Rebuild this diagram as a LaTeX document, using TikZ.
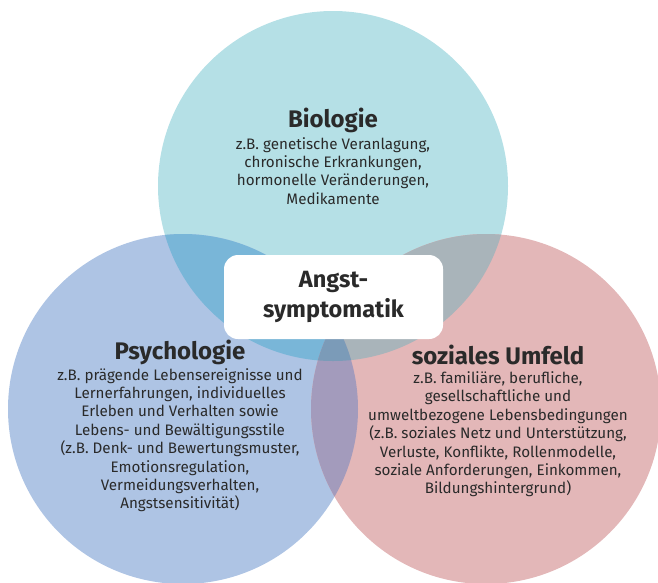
\documentclass[tikz,border=0pt]{standalone}
\usepackage{fontspec}
\setmainfont{Fira Sans}
\definecolor{biocol}{HTML}{B5E0E6}
\definecolor{psycol}{HTML}{AEC4E4}
\definecolor{sozcol}{HTML}{E3B7B8}
\definecolor{biopsy}{HTML}{79B6D8}
\definecolor{biosoz}{HTML}{A9B4BA}
\definecolor{psysoz}{HTML}{A39BBC}
\definecolor{allcol}{HTML}{7B9BB8}
\definecolor{txtcol}{HTML}{2A2A2A}
\tikzset{
  title/.style={font=\fontsize{24}{26}\selectfont\bfseries, text=txtcol, inner sep=0pt},
  body/.style={font=\fontsize{15.2}{18.4}\selectfont, text=txtcol, align=center, inner sep=0pt},
}
\begin{document}
\begin{tikzpicture}[x=1pt,y=-1pt]
\useasboundingbox (0,0) rectangle (658,582);
\clip (0,0) rectangle (658,582);
\def\r{175}
\coordinate (bio) at (333,186);
\coordinate (psy) at (183,409);
\coordinate (soz) at (486,409);
% circles
\fill[biocol] (bio) circle[radius=\r];
\fill[psycol] (psy) circle[radius=\r];
\fill[sozcol] (soz) circle[radius=\r];
% overlaps
\begin{scope}
\clip (bio) circle[radius=\r];
\fill[biopsy] (psy) circle[radius=\r];
\fill[biosoz] (soz) circle[radius=\r];
\end{scope}
\begin{scope}
\clip (psy) circle[radius=\r];
\fill[psysoz] (soz) circle[radius=\r];
\clip (soz) circle[radius=\r];
\fill[allcol] (bio) circle[radius=\r];
\end{scope}
% centre box
\node[fill=white, rounded corners=14pt, minimum width=219pt, minimum height=84pt,
  align=center, font=\fontsize{23.5}{30}\selectfont\bfseries, text=txtcol] (angst) at (333.5,297) {Angst-\\symptomatik};
% labels
\node[title] (biot) at (333,120) {Biologie};
\node[body, anchor=north] (biob) at (333,137) {z.B. genetische Veranlagung,\\chronische Erkrankungen,\\hormonelle Veränderungen,\\Medikamente};
\node[title] (psyt) at (180,352) {Psychologie};
\node[body, anchor=north] (psyb) at (180,368) {z.B. prägende Lebensereignisse und\\Lernerfahrungen, individuelles\\Erleben und Verhalten sowie\\Lebens- und Bewältigungsstile\\(z.B. Denk- und Bewertungsmuster,\\Emotionsregulation,\\Vermeidungsverhalten,\\Angstsensitivität)};
\node[title] (sozt) at (498,355) {soziales Umfeld};
\node[body, anchor=north] (sozb) at (498,371.5) {z.B. familiäre, berufliche,\\gesellschaftliche und\\umweltbezogene Lebensbedingungen\\(z.B. soziales Netz und Unterstützung,\\Verluste, Konflikte, Rollenmodelle,\\soziale Anforderungen, Einkommen,\\Bildungshintergrund)};
\end{tikzpicture}
\end{document}
